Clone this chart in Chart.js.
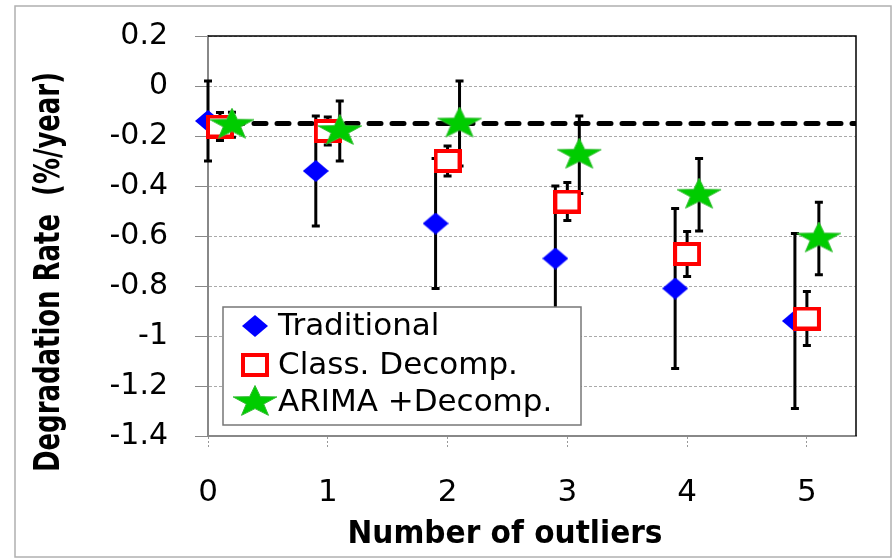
<!DOCTYPE html>
<html>
<head>
<meta charset="utf-8">
<script src="https://cdn.jsdelivr.net/npm/chart.js@4.4.0/dist/chart.umd.min.js"></script>
<style>
  html, body { margin: 0; padding: 0; background: #fff; }
</style>
</head>
<body>
<canvas id="chart" width="896" height="559"></canvas>
<script>
// series names and x ticks
const seriesNames = ['Traditional', 'Class. Decomp.', 'ARIMA +Decomp.'];
const outlierTicks = [0, 1, 2, 3, 4, 5];

// points are offset a little around each outlier count
const tradX = [0, 0.9, 1.9, 2.9, 3.9, 4.9];
const tradY = [-0.14, -0.34, -0.55, -0.69, -0.81, -0.94];
const tradErr = [0.16, 0.22, 0.26, 0.29, 0.32, 0.35];

const classX = [0.1, 1, 2, 3, 4, 5];
const classY = [-0.162, -0.18, -0.30, -0.462, -0.672, -0.93];
const classErr = [0.056, 0.056, 0.06, 0.076, 0.09, 0.108];

const arimaX = [0.2, 1.1, 2.1, 3.1, 4.1, 5.1];
const arimaY = [-0.155, -0.18, -0.15, -0.275, -0.435, -0.61];
const arimaErr = [0.05, 0.12, 0.17, 0.155, 0.145, 0.145];

// dashed reference rate
const refX = [0, 5.41];
const refY = [-0.15, -0.15];

function pts(xs, ys) {
    return xs.map((x, i) => ({ x: x, y: ys[i] }));
}

// marker images (markers in the picture are a bit wider than tall)
function makeDiamond() {
    const c = document.createElement('canvas');
    c.width = 26; c.height = 22;
    const g = c.getContext('2d');
    g.fillStyle = '#0000ff';
    g.beginPath();
    g.moveTo(13, 0); g.lineTo(26, 11); g.lineTo(13, 22); g.lineTo(0, 11);
    g.closePath();
    g.fill();
    return c;
}

function makeSquare() {
    const c = document.createElement('canvas');
    c.width = 28; c.height = 24;
    const g = c.getContext('2d');
    g.fillStyle = '#ffffff';
    g.fillRect(2, 2, 24, 20);
    g.strokeStyle = '#ff0000';
    g.lineWidth = 4;
    g.strokeRect(2, 2, 24, 20);
    return c;
}

function makeStar() {
    const c = document.createElement('canvas');
    c.width = 48; c.height = 34;
    const g = c.getContext('2d');
    const cx = 24, cy = 17, rx = 23, ry = 16.5;
    g.beginPath();
    for (let i = 0; i < 10; i++) {
        const a = -Math.PI / 2 + i * Math.PI / 5;
        const r = i % 2 === 0 ? 1 : 0.4;
        const px = cx + rx * r * Math.cos(a);
        const py = cy + ry * r * Math.sin(a);
        if (i === 0) g.moveTo(px, py); else g.lineTo(px, py);
    }
    g.closePath();
    g.fillStyle = '#00cc00';
    g.fill();
    g.strokeStyle = '#33bb33';
    g.lineWidth = 1;
    g.stroke();
    return c;
}

const diamondImg = makeDiamond();
const squareImg = makeSquare();
const starImg = makeStar();

const errorSets = [
    { xs: tradX, ys: tradY, err: tradErr },
    { xs: classX, ys: classY, err: classErr },
    { xs: arimaX, ys: arimaY, err: arimaErr }
];

const errorBars = {
    id: 'errorBars',
    beforeDatasetsDraw(chart) {
        const ctx = chart.ctx;
        const xs = chart.scales.x, ys = chart.scales.y;
        ctx.save();
        ctx.strokeStyle = '#000';
        ctx.lineWidth = 3;
        errorSets.forEach(s => {
            s.xs.forEach((xv, i) => {
                const px = xs.getPixelForValue(xv);
                const top = ys.getPixelForValue(s.ys[i] + s.err[i]);
                const bot = ys.getPixelForValue(s.ys[i] - s.err[i]);
                ctx.beginPath();
                ctx.moveTo(px, top); ctx.lineTo(px, bot);
                ctx.moveTo(px - 4, top); ctx.lineTo(px + 4, top);
                ctx.moveTo(px - 4, bot); ctx.lineTo(px + 4, bot);
                ctx.stroke();
            });
        });
        ctx.restore();
    }
};

function scaledText(ctx, text, cx, baseY, font, width, rotate) {
    ctx.save();
    ctx.translate(cx, baseY);
    if (rotate) ctx.rotate(-Math.PI / 2);
    ctx.font = font;
    const w = ctx.measureText(text).width;
    ctx.scale(width / w, 1);
    ctx.textAlign = 'center';
    ctx.textBaseline = 'alphabetic';
    ctx.fillStyle = '#000';
    ctx.fillText(text, 0, 0);
    ctx.restore();
}

const decorations = {
    id: 'decorations',
    afterDraw(chart) {
        const ctx = chart.ctx;
        const a = chart.chartArea;
        ctx.save();
        // black frame on top and right
        ctx.strokeStyle = '#000';
        ctx.lineWidth = 1.5;
        ctx.beginPath();
        ctx.moveTo(a.left, a.top); ctx.lineTo(a.right, a.top); ctx.lineTo(a.right, a.bottom);
        ctx.stroke();

        // legend box
        const lx = 223, ly = 307, lw = 358, lh = 118;
        ctx.fillStyle = '#fff';
        ctx.fillRect(lx, ly, lw, lh);
        ctx.strokeStyle = '#777';
        ctx.lineWidth = 1.5;
        ctx.strokeRect(lx, ly, lw, lh);
        const imgs = [diamondImg, squareImg, starImg];
        const rows = [326, 365, 402];
        ctx.font = '31px "DejaVu Sans"';
        ctx.fillStyle = '#000';
        ctx.textBaseline = 'middle';
        ctx.textAlign = 'left';
        seriesNames.forEach((name, i) => {
            const img = imgs[i];
            ctx.drawImage(img, 255 - img.width / 2, rows[i] - img.height / 2);
            ctx.fillText(name, 278, rows[i] + 1);
        });

        // axis titles
        scaledText(ctx, 'Number of outliers', 505, 543, 'bold 32px "DejaVu Sans"', 315, false);
        scaledText(ctx, 'Degradation Rate  (%/year)', 59, 272, 'bold 35px "DejaVu Sans"', 400, true);

        // outer frame
        ctx.strokeStyle = '#b0b0b0';
        ctx.lineWidth = 1.5;
        ctx.strokeRect(15, 6, 876, 551);
        ctx.restore();
    }
};

new Chart(document.getElementById('chart'), {
    type: 'scatter',
    data: {
        datasets: [
            { label: seriesNames[0], data: pts(tradX, tradY), pointStyle: diamondImg, pointRadius: 10, order: 2, clip: false },
            { label: seriesNames[1], data: pts(classX, classY), pointStyle: squareImg, pointRadius: 10, order: 1, clip: false },
            { label: seriesNames[2], data: pts(arimaX, arimaY), pointStyle: starImg, pointRadius: 10, order: 0, clip: false },
            {
                label: 'ref', data: pts(refX, refY), showLine: true, pointRadius: 0,
                borderColor: '#000', borderWidth: 5, borderDash: [12, 11], borderCapStyle: 'round',
                order: 3
            }
        ]
    },
    options: {
        responsive: false,
        animation: false,
        devicePixelRatio: 1,
        layout: { padding: { left: 0, top: 36, right: 40, bottom: 0 } },
        plugins: {
            legend: { display: false },
            tooltip: { enabled: false }
        },
        scales: {
            x: {
                type: 'linear',
                min: 0,
                max: 5.41,
                afterFit(s) { s.height = 123; },
                afterBuildTicks(s) {
                    s.ticks = outlierTicks.map(v => ({ value: v }));
                },
                ticks: {
                    font: { family: 'DejaVu Sans', size: 31 },
                    color: '#000',
                    padding: 26
                },
                grid: {
                    drawOnChartArea: false,
                    tickLength: 12,
                    tickColor: '#999',
                    tickBorderDash: [2, 2]
                },
                border: { color: '#888', width: 2 }
            },
            y: {
                min: -1.4,
                max: 0.2,
                afterFit(s) {
                    s.width = 208;
                    s.paddingTop = 0;
                    s.paddingBottom = 0;
                },
                ticks: {
                    stepSize: 0.2,
                    font: { family: 'DejaVu Sans', size: 30 },
                    color: '#000',
                    padding: 27,
                    callback: v => String(Math.round(v * 10) / 10)
                },
                grid: {
                    color: '#aaa',
                    tickColor: '#888',
                    tickLength: 13
                },
                border: { color: '#888', width: 2, dash: [3, 2] }
            }
        }
    },
    plugins: [errorBars, decorations]
});
</script>
</body>
</html>
